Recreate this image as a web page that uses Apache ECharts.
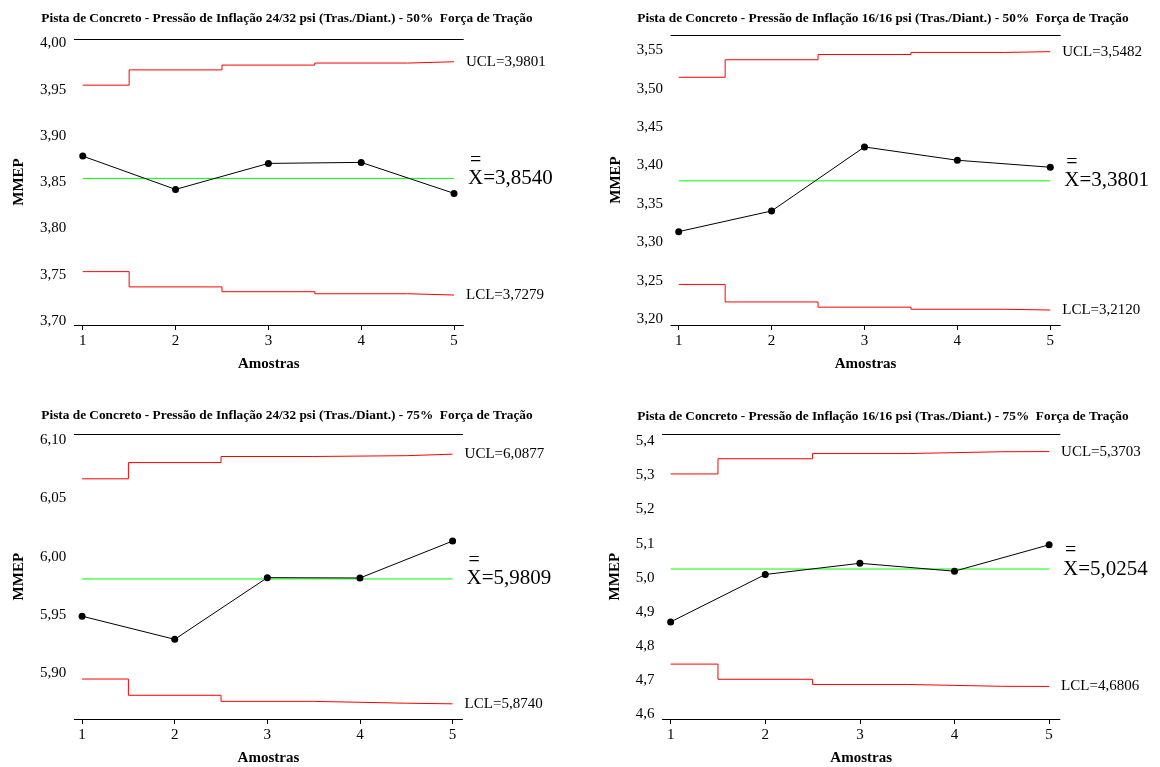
<!DOCTYPE html>
<html><head><meta charset="utf-8">
<script src="https://cdn.jsdelivr.net/npm/echarts@6/dist/echarts.min.js"></script>
<style>html,body{margin:0;padding:0;background:#fff}#c{width:1160px;height:767px}</style>
</head><body><div id="c"></div>
<script>
// ---------- data ----------
const titles = [
  'Pista de Concreto - Pressão de Inflação 24/32 psi (Tras./Diant.) - 50%  Força de Tração',
  'Pista de Concreto - Pressão de Inflação 16/16 psi (Tras./Diant.) - 50%  Força de Tração',
  'Pista de Concreto - Pressão de Inflação 24/32 psi (Tras./Diant.) - 75%  Força de Tração',
  'Pista de Concreto - Pressão de Inflação 16/16 psi (Tras./Diant.) - 75%  Força de Tração'
];
const samples = [1, 2, 3, 4, 5];
const xTicks = [1, 2, 3, 4, 5];

const means1 = [3.8781, 3.8421, 3.8702, 3.8713, 3.8378];
const ucl1   = [3.9548, 3.9713, 3.9765, 3.9787, 3.9801];
const lcl1   = [3.7532, 3.7367, 3.7315, 3.7293, 3.7279];
const center1 = 3.8540;
const yTicks1 = [3.70, 3.75, 3.80, 3.85, 3.90, 3.95, 4.00];

const means2 = [3.3140, 3.3409, 3.4242, 3.4069, 3.3978];
const ucl2   = [3.5149, 3.5377, 3.5445, 3.5472, 3.5482];
const lcl2   = [3.2453, 3.2225, 3.2157, 3.2130, 3.2120];
const center2 = 3.3801;
const yTicks2 = [3.20, 3.25, 3.30, 3.35, 3.40, 3.45, 3.50, 3.55];

const means3 = [5.9490, 5.9292, 5.9820, 5.9817, 6.0133];
const ucl3   = [6.0666, 6.0805, 6.0857, 6.0864, 6.0877];
const lcl3   = [5.8952, 5.8813, 5.8761, 5.8745, 5.8740];
const center3 = 5.9809;
const yTicks3 = [5.90, 5.95, 6.00, 6.05, 6.10];

const means4 = [4.8701, 5.0094, 5.0422, 5.0190, 5.0965];
const ucl4   = [5.3046, 5.3492, 5.3644, 5.3698, 5.3703];
const lcl4   = [4.7462, 4.7016, 4.6864, 4.6810, 4.6806];
const center4 = 5.0254;
const yTicks4 = [4.6, 4.7, 4.8, 4.9, 5.0, 5.1, 5.2, 5.3, 5.4];

const xName = 'Amostras';
const yName = 'MMEP';

// ---------- layout ----------
const layout = [
  {left: 74.3,  top: 39,    width: 389,   height: 286, xMin: 0.909, xMax: 5.100, yMin: 3.6955, yMax: 4.0047, tx: 287, ty: 18,  dec: 2, yGap: 48},
  {left: 670.9, top: 35,    width: 389.3, height: 290, xMin: 0.916, xMax: 5.107, yMin: 3.1925, yMax: 3.5699, tx: 883, ty: 18,  dec: 2, yGap: 47.5},
  {left: 74.3,  top: 434.3, width: 388.2, height: 288, xMin: 0.916, xMax: 5.107, yMin: 5.8610, yMax: 6.1047, tx: 287, ty: 415, dec: 2, yGap: 48},
  {left: 662.5, top: 434.3, width: 397.4, height: 288, xMin: 0.914, xMax: 5.114, yMin: 4.5850, yMax: 5.4210, tx: 883, ty: 416, dec: 1, yGap: 40}
];
const panels = [
  {means: means1, ucl: ucl1, lcl: lcl1, center: center1, yTicks: yTicks1},
  {means: means2, ucl: ucl2, lcl: lcl2, center: center2, yTicks: yTicks2},
  {means: means3, ucl: ucl3, lcl: lcl3, center: center3, yTicks: yTicks3},
  {means: means4, ucl: ucl4, lcl: lcl4, center: center4, yTicks: yTicks4}
];

const FONT = '"Liberation Serif", "Times New Roman", serif';
const fmt4 = v => v.toFixed(4).replace('.', ',');
const pairs = arr => samples.map((s, i) => [s, arr[i]]);
// limits change half way between consecutive samples (staircase)
function stepPairs(arr) {
  const out = [];
  samples.forEach((s, i) => {
    const x0 = i === 0 ? s : (samples[i - 1] + s) / 2;
    const x1 = i === samples.length - 1 ? s : (s + samples[i + 1]) / 2;
    out.push([x0, arr[i]], [x1, arr[i]]);
  });
  return out;
}

const option = {
  animation: false,
  backgroundColor: '#fff',
  title: [], grid: [], xAxis: [], yAxis: [], series: []
};

layout.forEach((L, i) => {
  const P = panels[i];
  option.title.push({
    text: titles[i], left: L.tx, top: L.ty - 6, textAlign: 'center', padding: 0,
    textStyle: {fontFamily: FONT, fontWeight: 'bold', fontSize: 13.3, color: '#000'}
  });
  option.grid.push({left: L.left, top: L.top, width: L.width, height: L.height, containLabel: false});
  option.xAxis.push({
    type: 'value', gridIndex: i, min: L.xMin, max: L.xMax, position: 'bottom',
    name: xName, nameLocation: 'middle', nameGap: 32,
    nameTextStyle: {fontFamily: FONT, fontWeight: 'bold', fontSize: 15, color: '#000'},
    axisLine: {show: true, lineStyle: {color: '#000', width: 1}},
    axisTick: {show: true, customValues: xTicks, length: 5, lineStyle: {color: '#000'}},
    axisLabel: {show: true, customValues: xTicks, margin: 9, fontFamily: FONT, fontSize: 15, color: '#000'},
    splitLine: {show: false}
  });
  option.xAxis.push({
    type: 'value', gridIndex: i, min: L.xMin, max: L.xMax, position: 'top',
    axisLine: {show: true, lineStyle: {color: '#000', width: 1}},
    axisTick: {show: false}, axisLabel: {show: false}, splitLine: {show: false}
  });
  option.yAxis.push({
    type: 'value', gridIndex: i, min: L.yMin, max: L.yMax,
    name: yName, nameLocation: 'middle', nameGap: L.yGap,
    nameTextStyle: {fontFamily: FONT, fontWeight: 'bold', fontSize: 15, color: '#000'},
    axisLine: {show: false}, axisTick: {show: false}, splitLine: {show: false},
    axisLabel: {show: true, customValues: P.yTicks, margin: 8, fontFamily: FONT, fontSize: 15, color: '#000',
      formatter: v => v.toFixed(L.dec).replace('.', ',')}
  });
  const xi = i * 2, yi = i;
  option.series.push({
    type: 'line', xAxisIndex: xi, yAxisIndex: yi, data: stepPairs(P.ucl),
    symbol: 'none', lineStyle: {color: '#ff0000', width: 1}, z: 2,
    endLabel: {show: true, distance: 12, formatter: 'UCL=' + fmt4(P.ucl[4]),
      fontFamily: FONT, fontSize: 15, color: '#000'}
  });
  option.series.push({
    type: 'line', xAxisIndex: xi, yAxisIndex: yi, data: stepPairs(P.lcl),
    symbol: 'none', lineStyle: {color: '#ff0000', width: 1}, z: 2,
    endLabel: {show: true, distance: 12, formatter: 'LCL=' + fmt4(P.lcl[4]),
      fontFamily: FONT, fontSize: 15, color: '#000'}
  });
  option.series.push({
    type: 'line', xAxisIndex: xi, yAxisIndex: yi,
    data: [[samples[0], P.center], [samples[samples.length - 1], P.center]],
    symbol: 'none', lineStyle: {color: '#00ff00', width: 1}, z: 2,
    endLabel: {show: true, distance: 14, offset: [0, -7],
      formatter: '{bar|=}\n{big|X=' + fmt4(P.center) + '}',
      rich: {
        bar: {fontFamily: FONT, fontSize: 20, lineHeight: 14, color: '#000', padding: [0, 0, 0, 2]},
        big: {fontFamily: FONT, fontSize: 21, lineHeight: 22, color: '#000'}
      }}
  });
  option.series.push({
    type: 'line', xAxisIndex: xi, yAxisIndex: yi, data: pairs(P.means),
    symbol: 'circle', symbolSize: 7, showSymbol: true,
    itemStyle: {color: '#000'}, lineStyle: {color: '#000', width: 1}, z: 3
  });
});

const chart = echarts.init(document.getElementById('c'), null, {renderer: 'canvas'});
chart.setOption(option);
</script>
</body></html>
